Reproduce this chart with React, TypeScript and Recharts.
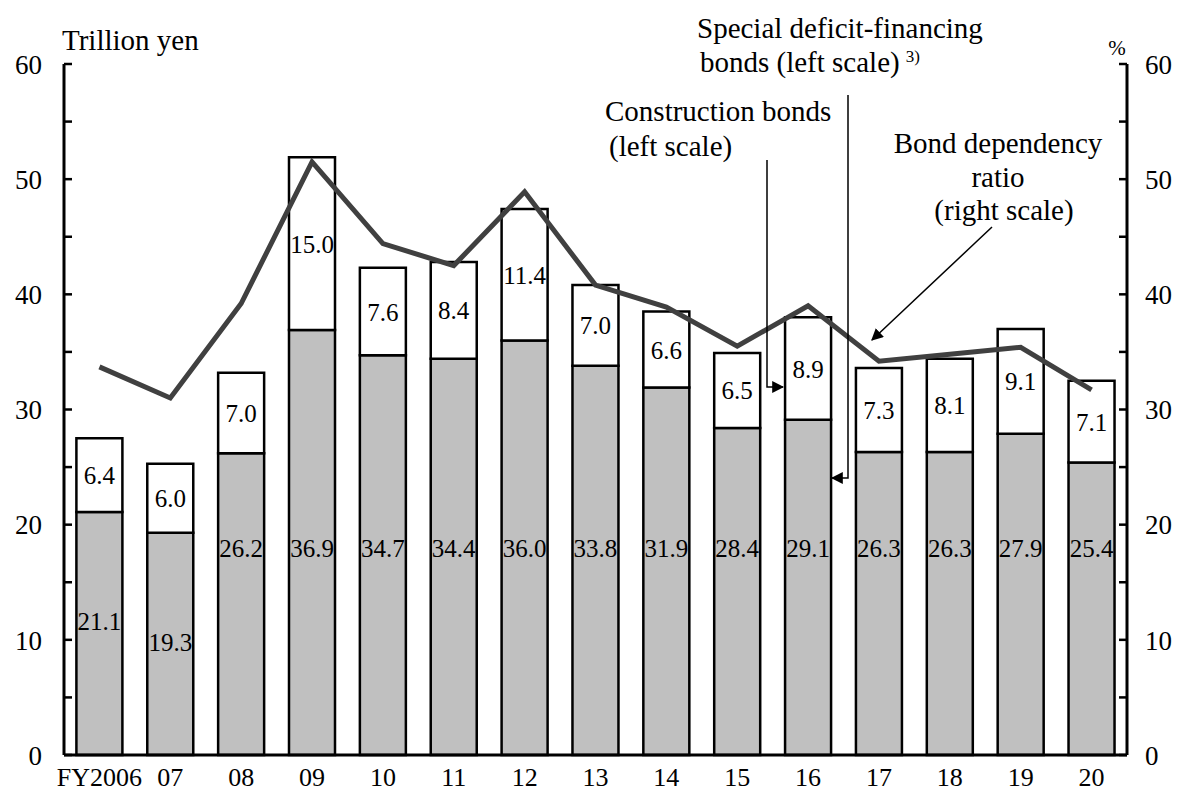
import React from 'react';
import { ComposedChart, Bar, Line, XAxis, YAxis, LabelList } from 'recharts';

const years = ['FY2006', '07', '08', '09', '10', '11', '12', '13', '14', '15', '16', '17', '18', '19', '20'];
const deficitBonds = [21.1, 19.3, 26.2, 36.9, 34.7, 34.4, 36.0, 33.8, 31.9, 28.4, 29.1, 26.3, 26.3, 27.9, 25.4];
const constructionBonds = [6.4, 6.0, 7.0, 15.0, 7.6, 8.4, 11.4, 7.0, 6.6, 6.5, 8.9, 7.3, 8.1, 9.1, 7.1];
const dependencyRatio = [33.7, 31.0, 39.2, 51.5, 44.4, 42.5, 48.9, 40.8, 38.9, 35.5, 39.0, 34.2, 34.8, 35.4, 31.7];
const axisTicks = [0, 5, 10, 15, 20, 25, 30, 35, 40, 45, 50, 55, 60];

const FONT = "'Liberation Serif', 'DejaVu Serif', serif";

const data = years.map((year, i) => ({
  year,
  deficit: deficitBonds[i],
  construction: constructionBonds[i],
  ratio: dependencyRatio[i],
}));

const txt = { fontFamily: FONT, fill: '#000' };

const LeftTick = ({ x, y, payload }: any) => (
  <g>
    <line x1={x} x2={x + 8} y1={y} y2={y} stroke="#000" strokeWidth={2.5} />
    {payload.value % 10 === 0 && (
      <text x={x - 22} y={y} dy="0.36em" textAnchor="end" fontSize={27} style={txt}>
        {payload.value}
      </text>
    )}
  </g>
);

const RightTick = ({ x, y, payload }: any) => (
  <g>
    <line x1={x - 8} x2={x} y1={y} y2={y} stroke="#000" strokeWidth={2.5} />
    {payload.value % 10 === 0 && (
      <text x={x + 18} y={y} dy="0.36em" textAnchor="start" fontSize={27} style={txt}>
        {payload.value}
      </text>
    )}
  </g>
);

// gray segment: label sits at ~18 on the scale, lower for short bars
const DeficitLabel = ({ x, y, width, height, value }: any) => {
  const perUnit = height / value;
  const at = value < 22 ? value - 9.5 : 18;
  const cy = y + height - at * perUnit;
  return (
    <text x={x + width / 2} y={cy} dy="0.36em" textAnchor="middle" fontSize={25} style={txt}>
      {value.toFixed(1)}
    </text>
  );
};

const ConstructionLabel = ({ x, y, width, height, value }: any) => (
  <text x={x + width / 2} y={y + height / 2} dy="0.36em" textAnchor="middle" fontSize={25} style={txt}>
    {value.toFixed(1)}
  </text>
);

const Annotations = () => (
  <svg
    width={1183}
    height={793}
    style={{ position: 'absolute', left: 0, top: 0, pointerEvents: 'none', fontFamily: FONT }}
  >
    <defs>
      <marker id="arrow" viewBox="0 0 10 10" refX="9" refY="5" markerWidth="8" markerHeight="8" orient="auto">
        <path d="M0,0 L10,5 L0,10 z" fill="#000" />
      </marker>
    </defs>
    <text x={62} y={50} fontSize={29}>Trillion yen</text>
    <text x={1117} y={55} fontSize={21} textAnchor="middle">%</text>

    <text x={697} y={38} fontSize={29}>Special deficit-financing</text>
    <text x={700} y={72} fontSize={29}>
      bonds (left scale)
      <tspan fontSize={17} dx={6} dy={-10}>3)</tspan>
    </text>
    <text x={605} y={121} fontSize={29}>Construction bonds</text>
    <text x={609} y={156} fontSize={29}>(left scale)</text>
    <text x={998} y={153} fontSize={29} textAnchor="middle">Bond dependency</text>
    <text x={998} y={187} fontSize={29} textAnchor="middle">ratio</text>
    <text x={1004} y={220} fontSize={29} textAnchor="middle">(right scale)</text>

    <polyline points="767,160 767,387 783,387" fill="none" stroke="#000" strokeWidth={1.5} markerEnd="url(#arrow)" />
    <polyline points="848,95 848,478 832,478" fill="none" stroke="#000" strokeWidth={1.5} markerEnd="url(#arrow)" />
    <line x1={992} y1={227} x2={872} y2={340} stroke="#000" strokeWidth={1.5} markerEnd="url(#arrow)" />
  </svg>
);

export default function App() {
  return (
    <div style={{ position: 'absolute', left: 0, top: 0, width: 1183, height: 793, background: '#fff', fontFamily: FONT }}>
      <ComposedChart
        width={1183}
        height={793}
        data={data}
        margin={{ top: 64, right: 10, bottom: 0, left: 20 }}
        barCategoryGap="17.5%"
        style={{ fontFamily: FONT }}
      >
        <XAxis
          dataKey="year"
          interval={0}
          tickLine={false}
          tickSize={0}
          tickMargin={13}
          height={38}
          axisLine={{ stroke: '#000', strokeWidth: 3 }}
          tick={{ fontSize: 26, fill: '#000', style: txt }}
        />
        <YAxis
          yAxisId="left"
          orientation="left"
          width={44}
          domain={[0, 60]}
          ticks={axisTicks}
          interval={0}
          tickLine={false}
          tickSize={0}
          tickMargin={0}
          axisLine={{ stroke: '#000', strokeWidth: 3 }}
          tick={<LeftTick />}
        />
        <YAxis
          yAxisId="right"
          orientation="right"
          width={46}
          domain={[0, 60]}
          ticks={axisTicks}
          interval={0}
          tickLine={false}
          tickSize={0}
          tickMargin={0}
          axisLine={{ stroke: '#000', strokeWidth: 3 }}
          tick={<RightTick />}
        />
        <Bar yAxisId="left" dataKey="deficit" stackId="bonds" fill="#c0c0c0" stroke="#000" strokeWidth={2.5} isAnimationActive={false}>
          <LabelList dataKey="deficit" content={<DeficitLabel />} />
        </Bar>
        <Bar yAxisId="left" dataKey="construction" stackId="bonds" fill="#fff" stroke="#000" strokeWidth={2.5} isAnimationActive={false}>
          <LabelList dataKey="construction" content={<ConstructionLabel />} />
        </Bar>
        <Line
          yAxisId="right"
          dataKey="ratio"
          type="linear"
          stroke="#404040"
          strokeWidth={5}
          dot={false}
          activeDot={false}
          isAnimationActive={false}
        />
      </ComposedChart>
      <Annotations />
    </div>
  );
}
